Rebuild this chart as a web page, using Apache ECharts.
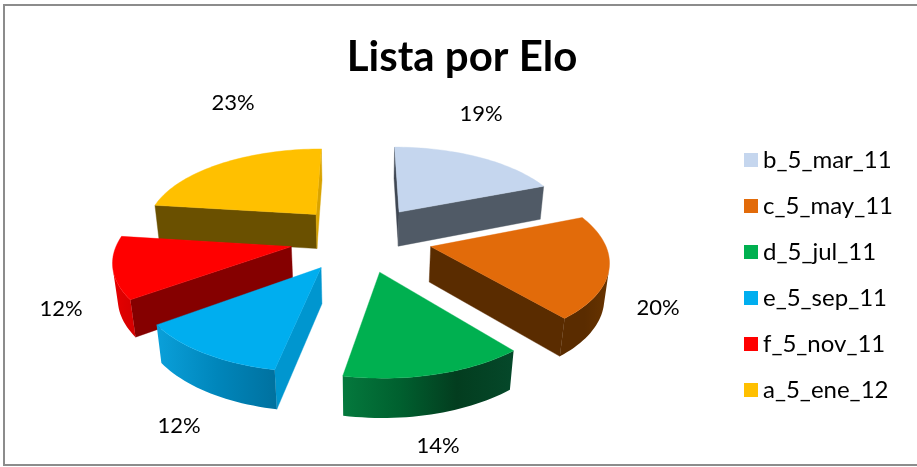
<!DOCTYPE html>
<html><head><meta charset="utf-8">
<style>html,body{margin:0;padding:0;background:#fff}#c{width:917px;height:467px}</style>
<script src="https://cdn.jsdelivr.net/npm/echarts@6/dist/echarts.min.js"></script>
</head><body><div id="c"></div>
<script>
const CATEGORIES = ['b_5_mar_11','c_5_may_11','d_5_jul_11','e_5_sep_11','f_5_nov_11','a_5_ene_12'];
const VALUES = [19,20,14,12,12,23];
const TOP_COLORS = ['#c5d6ee','#e26b0a','#00b050','#00aeef','#ff0000','#ffc000'];
const START_WALL = ['#3f4753','#5a2c00','#00602f','#0096cf','#850000','#6a5000'];
const END_WALL = ['#505a66','#5a2c00','#00602f','#0096cf','#850000','#d9a300'];
const ARC_STOPS = [
  ['#505a66','#505a66'],
  ['#5a2c00','#5a2c00','#683400'],
  ['#04793d','#00602f','#033d1f','#05482a'],
  ['#0aa0da','#0086bb','#00719f'],
  ['#e60000','#d40000'],
  ['#6a5000','#6a5000']
];
const LABEL_CENTERS = [[481,114],[658,308],[438,446],[179,426],[61,309],[233,103]];

// perspective of the pie plane (top face and bottom face)
const CX = 361, HORIZON = -343, FOCAL = 1245, EXPLODE = 0.41;
const TOP_PLANE = {D:7.2, K:4185};
const BOTTOM_PLANE = {D:7.35, K:4530};
const FONT = 'Lato, "Open Sans", sans-serif';

const TOTAL = VALUES.reduce((a,b)=>a+b,0);
const project = (X,Y,pl)=>[CX+FOCAL*X/(pl.D-Y), HORIZON+pl.K/(pl.D-Y)];
const area = pts=>{let s=0;pts.forEach((p,i)=>{const q=pts[(i+1)%pts.length];s+=p[0]*q[1]-q[0]*p[1];});return s;};
const startAngles=[];VALUES.reduce((acc,v,i)=>{startAngles[i]=acc;return acc+v/TOTAL*2*Math.PI;},0);
const midY=i=>-Math.cos(startAngles[i]+VALUES[i]/TOTAL*Math.PI);
const order=VALUES.map((_,i)=>i).sort((a,b)=>midY(a)-midY(b));

function renderSlice(i,api){
  const v=api.value(0), t0=startAngles[i], sweep=v/TOTAL*2*Math.PI, tm=t0+sweep/2;
  const ox=EXPLODE*Math.sin(tm), oy=-EXPLODE*Math.cos(tm);
  const N=Math.max(8,Math.round(sweep/0.03));
  const world=[];
  for(let k=0;k<=N;k++){const t=t0+sweep*k/N;world.push([ox+Math.sin(t),oy-Math.cos(t)]);}
  const top=world.map(w=>project(w[0],w[1],TOP_PLANE));
  const bot=world.map(w=>project(w[0],w[1],BOTTOM_PLANE));
  const aT=project(ox,oy,TOP_PLANE), aB=project(ox,oy,BOTTOM_PLANE);
  const faceSign=Math.sign(area([aT].concat(top)));
  const visible=q=>Math.sign(area(q))===-faceSign;
  const children=[];
  const poly=(pts,fill)=>children.push({type:'polygon',shape:{points:pts},style:{fill:fill,stroke:typeof fill==='string'?fill:null,lineWidth:typeof fill==='string'?0.4:0}});
  const w1=[aT,top[0],bot[0],aB];
  const w2=[top[N],aT,aB,bot[N]];
  if(visible(w1))poly(w1,START_WALL[i]);
  if(visible(w2))poly(w2,END_WALL[i]);
  const up=[],dn=[];
  for(let k=0;k<N;k++){
    if(visible([top[k],top[k+1],bot[k+1],bot[k]])){
      if(!up.length){up.push(top[k]);dn.push(bot[k]);}
      up.push(top[k+1]);dn.push(bot[k+1]);
    }
  }
  if(up.length){
    const st=ARC_STOPS[i];
    const grad=new echarts.graphic.LinearGradient(0,0,1,0,st.map((c,j)=>({offset:j/(st.length-1),color:c})));
    poly(up.concat(dn.reverse()),grad);
  }
  poly([aT].concat(top),TOP_COLORS[i]);
  children.push({type:'text',style:{text:Math.round(v/TOTAL*100)+'%',x:LABEL_CENTERS[i][0],y:LABEL_CENTERS[i][1],
    align:'center',verticalAlign:'middle',fontSize:22,fontFamily:FONT,fill:'#000'}});
  return {type:'group',children};
}

const chart=echarts.init(document.getElementById('c'),null,{renderer:'canvas'});
chart.setOption({
  animation:false,
  backgroundColor:'#fff',
  title:{text:'Lista por Elo',left:457,top:31,textAlign:'center',textStyle:{fontFamily:FONT,fontWeight:'bold',fontSize:42,color:'#000'}},
  legend:{orient:'vertical',left:739,top:143,icon:'rect',itemWidth:14,itemHeight:14,itemGap:22,
    selectedMode:false,textStyle:{fontFamily:FONT,fontSize:24,color:'#000',lineHeight:20},data:CATEGORIES},
  graphic:[{type:'rect',silent:true,z:-1,shape:{x:4,y:5,width:930,height:460},style:{fill:'#fff',stroke:'#8c8c8c',lineWidth:2}}],
  series:CATEGORIES.map((name,i)=>({
    type:'custom',name,coordinateSystem:'none',silent:true,z:2+order.indexOf(i),
    itemStyle:{color:TOP_COLORS[i]},
    data:[VALUES[i]],
    renderItem:(params,api)=>renderSlice(i,api)
  }))
});
</script></body></html>
